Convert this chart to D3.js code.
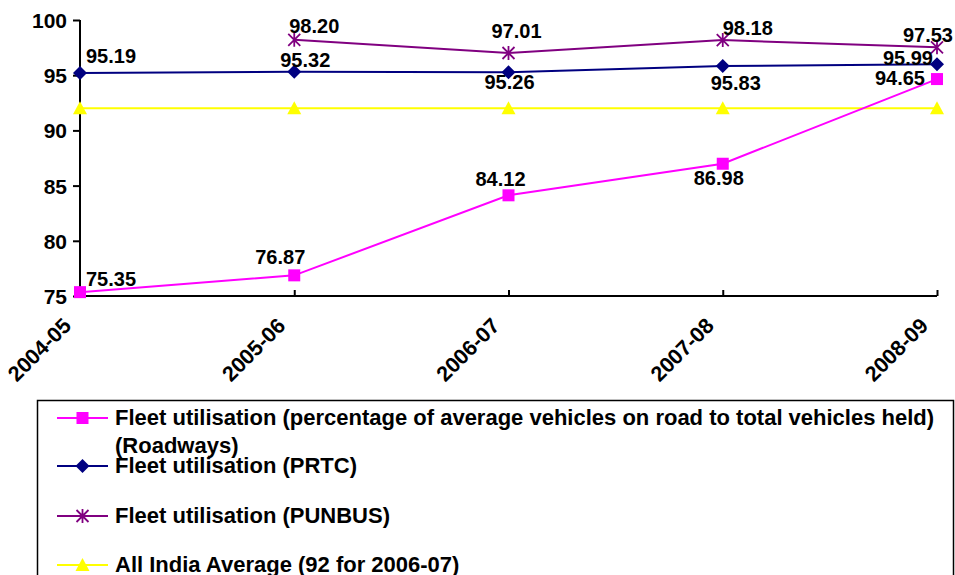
<!DOCTYPE html>
<html><head><meta charset="utf-8">
<script src="https://cdn.jsdelivr.net/npm/d3@7"></script>
<style>
body{margin:0;background:#fff;}
text{font-family:Arial,"Liberation Sans",sans-serif;font-weight:bold;fill:#000;}
</style></head>
<body>
<svg id="chart" width="955" height="575"></svg>
<script>
const categories = ["2004-05","2005-06","2006-07","2007-08","2008-09"];
const roadways = [75.35, 76.87, 84.12, 86.98, 94.65];
const prtc = [95.19, 95.32, 95.26, 95.83, 95.99];
const punbus = [null, 98.20, 97.01, 98.18, 97.53];
const allIndia = [92, 92, 92, 92, 92];
const yTicks = [75, 80, 85, 90, 95, 100];
const legendLabels = [
  "Fleet utilisation (percentage of average vehicles on road to total vehicles held)",
  "(Roadways)",
  "Fleet utilisation (PRTC)",
  "Fleet utilisation (PUNBUS)",
  "All India Average (92 for 2006-07)"
];

// label placement (offsets from point: dx for anchor, dy for baseline)
const placeRoad = [[6,-6,"start"],[-14,-11,"middle"],[-8,-9,"middle"],[-4,21,"middle"],[-12,6,"end"]];
const placePrtc = [[6,-10,"start"],[11,-5,"middle"],[1,17,"middle"],[13,24,"middle"],[-4,1,"end"]];
const placePun  = [null,[-5,-7,"start"],[8,-15,"middle"],[0,-5,"start"],[16,-5,"end"]];

const svg = d3.select("#chart");
const x = d3.scalePoint().domain(categories).range([80, 937]);
const y = d3.scaleLinear().domain([75, 100]).range([296, 20]);

// axes
const yAxis = svg.append("g").attr("transform","translate(80,0)")
  .call(d3.axisLeft(y).tickValues(yTicks).tickSize(7).tickPadding(6).tickFormat(d3.format("d")));
yAxis.select(".domain").attr("stroke","#000").attr("stroke-width",2).attr("d","M0,20V296");
yAxis.selectAll(".tick line").attr("stroke","#000").attr("stroke-width",2);
yAxis.selectAll(".tick text").attr("font-size",21).attr("dy","0.36em").style("font-family","Arial, 'Liberation Sans', sans-serif").style("font-weight","bold");

const xAxis = svg.append("g").attr("transform","translate(0,296)")
  .call(d3.axisBottom(x).tickSize(-6).tickSizeOuter(0));
xAxis.select(".domain").attr("stroke","#000").attr("stroke-width",2).attr("d","M80,0H937");
xAxis.selectAll(".tick line").attr("stroke","#000").attr("stroke-width",2);
xAxis.selectAll(".tick text")
  .attr("font-size",21.5).attr("text-anchor","end")
  .attr("transform","translate(-8,31) rotate(-45)")
  .attr("x",0).attr("y",0).attr("dy",0)
  .style("font-family","Arial, 'Liberation Sans', sans-serif").style("font-weight","bold");

const series = [
  {name:"allIndia", vals: allIndia, color:"#FFFF00", marker:"triangle", place:null},
  {name:"roadways", vals: roadways, color:"#FF00FF", marker:"square", place:placeRoad},
  {name:"punbus", vals: punbus, color:"#800080", marker:"star", place:placePun},
  {name:"prtc", vals: prtc, color:"#000080", marker:"diamond", place:placePrtc}
];

function drawMarker(g, type, color, cx, cy){
  if(type==="square"){
    g.append("rect").attr("x",cx-6).attr("y",cy-6).attr("width",12).attr("height",12).attr("fill",color);
  } else if(type==="diamond"){
    g.append("path").attr("d",`M${cx},${cy-7}L${cx+7},${cy}L${cx},${cy+7}L${cx-7},${cy}Z`).attr("fill",color);
  } else if(type==="triangle"){
    g.append("path").attr("d",`M${cx},${cy-7}L${cx+7},${cy+6}L${cx-7},${cy+6}Z`).attr("fill",color);
  } else if(type==="star"){
    const r=6;
    g.append("path").attr("d",`M${cx-r},${cy-r}L${cx+r},${cy+r}M${cx-r},${cy+r}L${cx+r},${cy-r}M${cx},${cy-r-1}L${cx},${cy+r+1}`)
      .attr("stroke",color).attr("stroke-width",1.8).attr("fill","none");
  }
}

const line = d3.line().defined(d=>d.v!=null).x(d=>x(d.c)).y(d=>y(d.v));
series.forEach(s=>{
  const pts = categories.map((c,i)=>({c, v:s.vals[i]}));
  svg.append("path").datum(pts).attr("d",line).attr("fill","none").attr("stroke",s.color).attr("stroke-width",2);
  const g = svg.append("g");
  pts.forEach(p=>{ if(p.v!=null) drawMarker(g, s.marker, s.color, x(p.c), y(p.v)); });
});
// labels
series.forEach(s=>{
  if(!s.place) return;
  categories.forEach((c,i)=>{
    const v=s.vals[i]; const pl=s.place[i];
    if(v==null||!pl) return;
    svg.append("text").attr("x",x(c)+pl[0]).attr("y",y(v)+pl[1]).attr("text-anchor",pl[2])
      .attr("font-size",20).text(d3.format(".2f")(v));
  });
});

// legend
const lg = svg.append("g");
lg.append("rect").attr("x",37.5).attr("y",400.5).attr("width",916).attr("height",200)
  .attr("fill","#fff").attr("stroke","#000").attr("stroke-width",1.5);
const legendRows = [
  {color:"#FF00FF", marker:"square", y:418, lines:[[legendLabels[0],425],[legendLabels[1],453]]},
  {color:"#000080", marker:"diamond", y:466, lines:[[legendLabels[2],473]]},
  {color:"#800080", marker:"star", y:516, lines:[[legendLabels[3],523]]},
  {color:"#FFFF00", marker:"triangle", y:565, lines:[[legendLabels[4],572]]}
];
legendRows.forEach(r=>{
  lg.append("line").attr("x1",57).attr("x2",108).attr("y1",r.y).attr("y2",r.y).attr("stroke",r.color).attr("stroke-width",2);
  drawMarker(lg, r.marker, r.color, 82.5, r.y);
  r.lines.forEach(([t,by])=>{
    lg.append("text").attr("x",115).attr("y",by).attr("font-size",22).text(t);
  });
});
</script>
</body></html>
